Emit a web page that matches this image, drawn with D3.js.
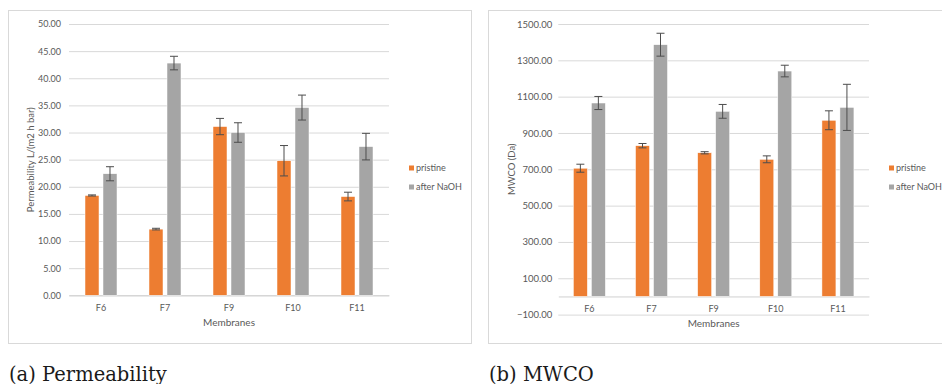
<!DOCTYPE html>
<html>
<head>
<meta charset="utf-8">
<script src="https://cdn.jsdelivr.net/npm/d3@7"></script>
<style>
  body { margin: 0; background: #fff; }
  text { font-family: Lato, "Open Sans", sans-serif; }
  text.caption { font-family: "DejaVu Serif", serif; }
</style>
</head>
<body>
<div id="chart-area"></div>
<script>
const categories = ["F6", "F7", "F9", "F10", "F11"];
const seriesNames = ["pristine", "after NaOH"];
const seriesColors = ["#ED7D31", "#A5A5A5"];

// permeability, L/(m2 h bar)
const permPristine = [18.4, 12.2, 31.1, 24.8, 18.2];
const permPristineErr = [0.1, 0.15, 1.5, 2.8, 0.8];
const permNaOH = [22.4, 42.8, 30.0, 34.6, 27.4];
const permNaOHErr = [1.3, 1.25, 1.8, 2.3, 2.45];
const permTicks = [0, 5, 10, 15, 20, 25, 30, 35, 40, 45, 50];

// MWCO, Da
const mwcoPristine = [706, 830, 791, 755, 970];
const mwcoPristineErr = [22, 12, 6, 19, 52];
const mwcoNaOH = [1065, 1386, 1019, 1241, 1041];
const mwcoNaOHErr = [36, 63, 38, 32, 127];
const mwcoTicks = [-100, 100, 300, 500, 700, 900, 1100, 1300, 1500];

const W = 942;
const H = 384;

const svg = d3.select("#chart-area")
    .append("svg")
    .attr("width", W)
    .attr("height", H);

const drawPanel = (opt) => {
    // outer frame
    svg.append("rect")
        .attr("x", opt.box[0] + 0.5)
        .attr("y", opt.box[1] + 0.5)
        .attr("width", opt.box[2])
        .attr("height", opt.box[3])
        .attr("fill", "none")
        .attr("stroke", "#d9d9d9");

    const x = d3.scaleBand()
        .domain(categories)
        .range([opt.left, opt.right]);

    const sub = d3.scaleBand()
        .domain(seriesNames)
        .range([0, 32])
        .paddingInner(0.2222);

    const y = d3.scaleLinear()
        .domain(opt.domain)
        .range([opt.bottom, opt.top]);

    const g = svg.append("g");

    // gridlines + tick labels
    const leftAxis = d3.axisLeft(y)
        .tickValues(opt.ticks)
        .tickSize(-(opt.right - opt.left))
        .tickPadding(opt.tickPad)
        .tickFormat(d3.format(".2f"));

    const ya = g.append("g")
        .attr("transform", "translate(" + opt.left + ",0)")
        .call(leftAxis);
    ya.select(".domain").remove();
    ya.selectAll("line").attr("stroke", "#d9d9d9");
    ya.selectAll("text")
        .attr("fill", "#595959")
        .attr("font-size", opt.tickFont);

    // horizontal axis at zero
    const bottomAxis = d3.axisBottom(x)
        .tickSize(0)
        .tickPadding(opt.catPad);

    const xa = g.append("g")
        .attr("transform", "translate(0," + y(0) + ")")
        .call(bottomAxis);
    xa.select(".domain").attr("stroke", "#d0d0d0");
    xa.selectAll("text")
        .attr("fill", "#595959")
        .attr("font-size", "9px");

    // bars
    opt.series.forEach((s, si) => {
        const name = seriesNames[si];
        g.selectAll(".bar-" + si)
            .data(s.values)
            .enter()
            .append("rect")
            .attr("class", "bar-" + si)
            .attr("x", (d, i) => x(categories[i]) + x.bandwidth() / 2 - 16 + sub(name))
            .attr("y", (d) => y(d))
            .attr("width", sub.bandwidth())
            .attr("height", (d) => y(0) - y(d))
            .attr("fill", seriesColors[si])
            .attr("stroke", "#fff")
            .attr("stroke-width", 0.5);

        // error bars
        const eb = g.selectAll(".err-" + si)
            .data(s.values)
            .enter()
            .append("g")
            .attr("class", "err-" + si)
            .attr("stroke", "#4d4d4d")
            .attr("stroke-width", 1);
        const cx = (i) => x(categories[i]) + x.bandwidth() / 2 - 16 + sub(name) + sub.bandwidth() / 2;
        eb.append("line")
            .attr("x1", (d, i) => cx(i))
            .attr("x2", (d, i) => cx(i))
            .attr("y1", (d, i) => y(d + s.err[i]))
            .attr("y2", (d, i) => y(d - s.err[i]));
        eb.append("line")
            .attr("x1", (d, i) => cx(i) - 4)
            .attr("x2", (d, i) => cx(i) + 4)
            .attr("y1", (d, i) => y(d + s.err[i]))
            .attr("y2", (d, i) => y(d + s.err[i]));
        eb.append("line")
            .attr("x1", (d, i) => cx(i) - 4)
            .attr("x2", (d, i) => cx(i) + 4)
            .attr("y1", (d, i) => y(d - s.err[i]))
            .attr("y2", (d, i) => y(d - s.err[i]));
    });

    // axis titles
    g.append("text")
        .attr("transform", "translate(" + opt.yTitleX + "," + ((opt.top + opt.bottom) / 2) + ") rotate(-90)")
        .attr("text-anchor", "middle")
        .attr("dy", "0.35em")
        .attr("font-size", "9.5px")
        .attr("fill", "#595959")
        .text(opt.yTitle);

    g.append("text")
        .attr("x", (opt.left + opt.right) / 2)
        .attr("y", opt.xTitleY)
        .attr("text-anchor", "middle")
        .attr("font-size", "10px")
        .attr("fill", "#595959")
        .text("Membranes");

    // legend
    const lg = g.selectAll(".legend")
        .data(seriesNames)
        .enter()
        .append("g")
        .attr("class", "legend")
        .attr("transform", (d, i) => "translate(" + opt.legendX + "," + (168 + i * 19) + ")");
    lg.append("rect")
        .attr("x", 0)
        .attr("y", -2.5)
        .attr("width", 5)
        .attr("height", 5)
        .attr("fill", (d, i) => seriesColors[i]);
    lg.append("text")
        .attr("x", 7)
        .attr("dy", "0.35em")
        .attr("font-size", "9px")
        .attr("fill", "#595959")
        .text((d) => d);

    // caption
    svg.append("text")
        .attr("class", "caption")
        .attr("x", opt.box[0] + 1)
        .attr("y", 380.5)
        .attr("font-size", "19.5px")
        .attr("fill", "#1a1a1a")
        .text(opt.caption);
};

drawPanel({
    box: [8, 10, 463, 333],
    left: 69,
    right: 389,
    top: 24,
    bottom: 295.3,
    domain: [0, 50],
    ticks: permTicks,
    tickPad: 8,
    tickFont: "9px",
    catPad: 9,
    yTitle: "Permeability L/(m2 h bar)",
    yTitleX: 31,
    xTitleY: 326,
    legendX: 409,
    series: [
        { values: permPristine, err: permPristineErr },
        { values: permNaOH, err: permNaOHErr }
    ],
    caption: "(a) Permeability"
});

drawPanel({
    box: [488, 10, 470, 333],
    left: 558.3,
    right: 869,
    top: 24,
    bottom: 314.6,
    domain: [-100, 1500],
    ticks: mwcoTicks,
    tickPad: 6,
    tickFont: "9.5px",
    catPad: 9,
    yTitle: "MWCO (Da)",
    yTitleX: 511.7,
    xTitleY: 327,
    legendX: 889,
    series: [
        { values: mwcoPristine, err: mwcoPristineErr },
        { values: mwcoNaOH, err: mwcoNaOHErr }
    ],
    caption: "(b) MWCO"
});
</script>
</body>
</html>
